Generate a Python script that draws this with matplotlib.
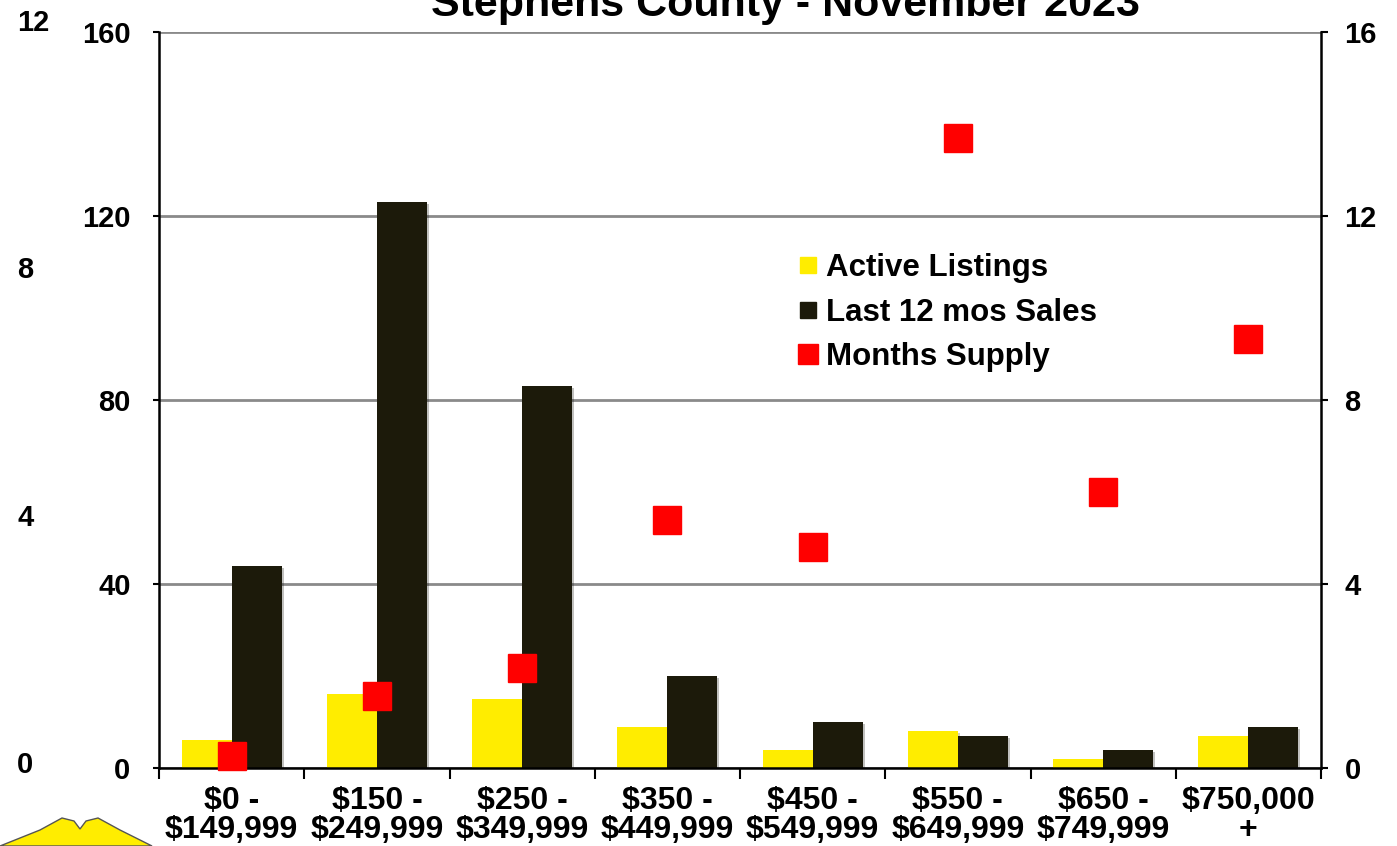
import matplotlib
matplotlib.use('Agg')
import matplotlib.pyplot as plt
import matplotlib.patheffects as pe
from matplotlib.patches import Polygon
from matplotlib.lines import Line2D
import numpy as np

plt.rcParams['font.family'] = ['Liberation Sans', 'DejaVu Sans']
plt.rcParams['font.weight'] = 'bold'

categories = ['$0 -\n$149,999', '$150 -\n$249,999', '$250 -\n$349,999', '$350 -\n$449,999',
              '$450 -\n$549,999', '$550 -\n$649,999', '$650 -\n$749,999', '$750,000\n+']
active_listings = [6, 16, 15, 9, 4, 8, 2, 7]
sales_12mo = [44, 123, 83, 20, 10, 7, 4, 9]
months_supply = [0.27, 1.56, 2.17, 5.4, 4.8, 13.7, 6.0, 9.33]

left_ticks = [0, 40, 80, 120, 160]
right_ticks = [0, 4, 8, 12, 16]
outer_ticks = [0, 4, 8, 12]

YELLOW = '#FFED00'
DARK = '#1C1A0A'
RED = '#FF0000'

W, H = 1397, 846
fig = plt.figure(figsize=(W / 100, H / 100), dpi=100)

ax = fig.add_axes([159 / W, 1 - 768 / H, (1321 - 159) / W, (768 - 32) / H])
x = np.arange(len(categories))
bw = 0.344
shadow = [pe.SimplePatchShadow(offset=(1.5, -1.5), alpha=0.25), pe.Normal()]
ax.bar(x - bw / 2, active_listings, bw, color=YELLOW, zorder=2, path_effects=shadow)
ax.bar(x + bw / 2, sales_12mo, bw, color=DARK, zorder=2, path_effects=shadow)

ax.set_xlim(-0.5, len(categories) - 0.5)
ax.set_ylim(0, 160)
ax.set_yticks(left_ticks)
ax.yaxis.grid(True, color='#8a8a8a', linewidth=2, zorder=0)
ax.set_axisbelow(True)
ax.set_xticks(np.arange(len(categories) + 1) - 0.5)
ax.set_xticklabels([])
ax.set_xticks(x, minor=True)
ax.set_xticklabels(categories, minor=True, fontsize=23, fontweight='bold', linespacing=0.95)
ax.tick_params(axis='x', which='major', direction='out', length=8, width=1.5)
ax.tick_params(axis='x', which='minor', length=0, pad=13)
ax.tick_params(axis='y', direction='out', length=4.5, width=1.5, labelsize=21, pad=16)
for s in ['left', 'bottom']:
    ax.spines[s].set_linewidth(1.8)
ax.spines['top'].set_visible(False)
ax.spines['right'].set_visible(False)

ax2 = ax.twinx()
ax2.set_ylim(0, 16)
ax2.set_yticks(right_ticks)
ax2.plot(x, months_supply, linestyle='none', marker='s', markersize=19.5,
         color=RED, clip_on=False, zorder=5)
ax2.tick_params(axis='y', direction='out', length=5, width=1.5, labelsize=21, pad=12)
ax2.spines['right'].set_linewidth(1.8)
for s in ['left', 'top', 'bottom']:
    ax2.spines[s].set_visible(False)

# outer left scale
ax3 = fig.add_axes([17 / W, 1 - 762 / H, 0.0001, (762 - 20) / H])
ax3.set_ylim(0, 12)
ax3.set_yticks(outer_ticks)
ax3.set_xticks([])
ax3.yaxis.tick_right()
ax3.tick_params(axis='y', length=0, pad=0, labelsize=21)
for s in ax3.spines.values():
    s.set_visible(False)
ax3.patch.set_visible(False)

handles = [Line2D([], [], linestyle='none', marker='s', markersize=11, color=YELLOW),
           Line2D([], [], linestyle='none', marker='s', markersize=11, color=DARK),
           Line2D([], [], linestyle='none', marker='s', markersize=14, color=RED)]
fig.legend(handles, ['Active Listings', 'Last 12 mos Sales', 'Months Supply'],
           loc='upper left', bbox_to_anchor=(799 / W, 1 - 253 / H), frameon=False,
           fontsize=22.5, handlelength=0.55, handletextpad=0.3, labelspacing=0.47,
           borderaxespad=0, borderpad=0)

fig.text(785 / W, 1 - 16 / H, 'Stephens County - November 2023', ha='center',
         va='baseline', fontsize=31, fontweight='bold')

# logo fragment, bottom left
logo = Polygon([(0, 846), (40, 830), (62, 818), (74, 821), (80, 829), (86, 821),
                (98, 818), (120, 830), (152, 846)], closed=True,
               transform=None, facecolor=YELLOW, edgecolor='#555555', linewidth=1)
logo.set_xy(np.column_stack([logo.get_xy()[:, 0], H - logo.get_xy()[:, 1]]))
fig.patches.append(logo)

fig.savefig('out.png', dpi=100)
